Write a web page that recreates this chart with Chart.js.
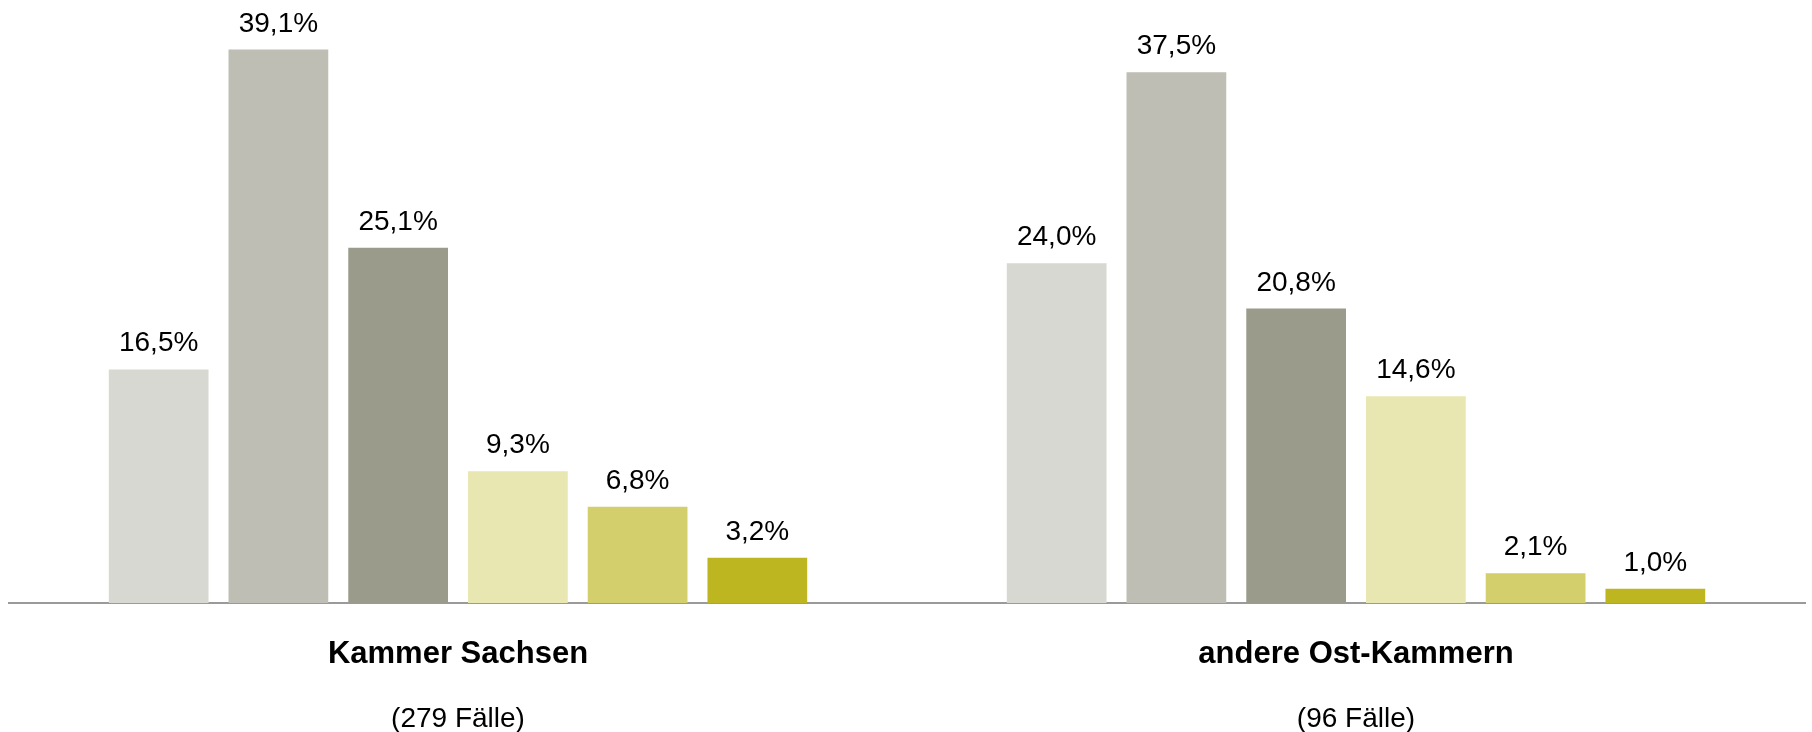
<!DOCTYPE html>
<html lang="de">
<head>
<meta charset="utf-8">
<title>Kammer Sachsen / andere Ost-Kammern</title>
<script src="https://cdn.jsdelivr.net/npm/chart.js@4.4.1/dist/chart.umd.min.js"></script>
<style>
  html, body { margin: 0; padding: 0; background: #fff; }
  #wrap { position: relative; width: 1812px; height: 732px; }
</style>
</head>
<body>
<div id="wrap"><canvas id="barChart"></canvas></div>
<script>
// ==========================
// DATA
// ==========================
const groups = ["Kammer Sachsen", "andere Ost-Kammern"];
const caseCounts = ["(279 Fälle)", "(96 Fälle)"];

// one array per bar colour, values in % (group 1, group 2)
const stufe1 = [16.5, 24.0];
const stufe2 = [39.1, 37.5];
const stufe3 = [25.1, 20.8];
const stufe4 = [9.3, 14.6];
const stufe5 = [6.8, 2.1];
const stufe6 = [3.2, 1.0];

const seriesValues = [stufe1, stufe2, stufe3, stufe4, stufe5, stufe6];
const seriesNames = ["Stufe 1", "Stufe 2", "Stufe 3", "Stufe 4", "Stufe 5", "Stufe 6"];
const seriesColors = ["#d7d8d2", "#bebeb4", "#9b9b8b", "#e8e6b1", "#d3cf6c", "#bdb621"];

const FONT = "'Liberation Sans', Arial, sans-serif";

// ==========================
// VALUE LABELS ABOVE BARS
// ==========================
const valueLabels = {
  id: "valueLabels",
  afterDatasetsDraw(chart) {
    const c = chart.ctx;
    c.save();
    c.font = "28px " + FONT;
    c.fillStyle = "#000";
    c.textAlign = "center";
    c.textBaseline = "alphabetic";
    chart.data.datasets.forEach((ds, i) => {
      chart.getDatasetMeta(i).data.forEach((bar, j) => {
        const txt = ds.data[j].toFixed(1).replace(".", ",") + "%";
        c.fillText(txt, bar.x, bar.y - 18);
      });
    });
    c.restore();
  },
};

// ==========================
// CHART
// ==========================
const ctx = document.getElementById("barChart");

new Chart(ctx, {
  type: "bar",
  data: {
    labels: groups,
    datasets: seriesValues.map((vals, i) => ({
      label: seriesNames[i],
      data: vals,
      backgroundColor: seriesColors[i],
      borderWidth: 0,
      categoryPercentage: 0.8,
      barPercentage: 0.833,
    })),
  },
  options: {
    responsive: true,
    maintainAspectRatio: false,
    animation: false,
    layout: { padding: { left: 9, right: 7, top: 0, bottom: 0 } },
    plugins: {
      legend: { display: false },
      tooltip: { enabled: false },
    },
    scales: {
      y: {
        display: false,
        min: 0,
        max: 42.6,
      },
      x: {
        position: "bottom",
        grid: { display: false, drawTicks: false },
        border: { display: true, color: "#9a9a9a", width: 2 },
        ticks: {
          color: "#000",
          padding: 33,
          font: { family: FONT, size: 31, weight: "bold", lineHeight: 1.2 },
          maxRotation: 0,
          autoSkip: false,
        },
        afterFit: (scale) => { scale.height = 79; },
      },
      x2: {
        type: "category",
        position: "bottom",
        labels: caseCounts,
        offset: true,
        grid: { display: false, drawTicks: false },
        border: { display: false },
        ticks: {
          color: "#000",
          padding: 20,
          font: { family: FONT, size: 28, lineHeight: 1.2 },
          maxRotation: 0,
          autoSkip: false,
        },
        afterFit: (scale) => { scale.height = 50; },
      },
    },
  },
  plugins: [valueLabels],
});
</script>
</body>
</html>
